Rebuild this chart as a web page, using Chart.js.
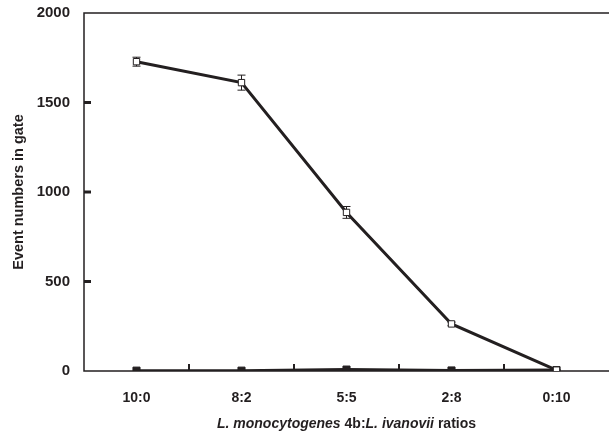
<!DOCTYPE html>
<html>
<head>
<meta charset="utf-8">
<script src="https://cdn.jsdelivr.net/npm/chart.js@4/dist/chart.umd.min.js"></script>
<style>
  html, body { margin: 0; padding: 0; background: #fff; }
  #wrap { width: 609px; height: 437px; }
</style>
</head>
<body>
<div id="wrap"><canvas id="chart"></canvas></div>
<script>
/* ── data ── */
const ratios = ['10:0', '8:2', '5:5', '2:8', '0:10'];
const ivanoviiGate = [1728, 1611, 886, 263, 5];
const ivanoviiErr = [25, 42, 33, 10, 3];
const monoGate = [2, 2, 8, 3, 5];
const yTicks = [0, 500, 1000, 1500, 2000];

const INK = '#231f20';
const FONT = '"Liberation Sans", Arial, sans-serif';

const pts = arr => arr.map((v, i) => ({ x: i, y: v }));

/* ── frame, inner ticks, error bars, titles ── */
const framePlugin = {
  id: 'frame',
  beforeDatasetsDraw(chart) {
    const { ctx, chartArea: a, scales: { x, y } } = chart;
    ctx.save();
    ctx.strokeStyle = INK;
    ctx.lineWidth = 1.5;
    ctx.beginPath();
    ctx.moveTo(a.right, a.top); ctx.lineTo(a.left, a.top);
    ctx.lineTo(a.left, a.bottom); ctx.lineTo(a.right, a.bottom);
    ctx.stroke();

    // y ticks pointing inward
    ctx.lineWidth = 3;
    yTicks.slice(1, -1).forEach(t => {
      const py = y.getPixelForValue(t);
      ctx.beginPath();
      ctx.moveTo(a.left, py); ctx.lineTo(a.left + 7, py);
      ctx.stroke();
    });
    // x ticks between categories, pointing up
    ctx.lineWidth = 2;
    for (let i = 0; i < ratios.length - 1; i++) {
      const px = x.getPixelForValue(i + 0.5);
      ctx.beginPath();
      ctx.moveTo(px, a.bottom); ctx.lineTo(px, a.bottom - 7);
      ctx.stroke();
    }

    // error bars on the open-square series (behind the markers)
    ctx.lineWidth = 1;
    ivanoviiGate.forEach((v, i) => {
      const px = x.getPixelForValue(i);
      const top = y.getPixelForValue(v + ivanoviiErr[i]);
      const bot = y.getPixelForValue(v - ivanoviiErr[i]);
      ctx.beginPath();
      ctx.moveTo(px, top); ctx.lineTo(px, bot);
      ctx.moveTo(px - 4, top); ctx.lineTo(px + 4, top);
      ctx.moveTo(px - 4, bot); ctx.lineTo(px + 4, bot);
      ctx.stroke();
    });
    ctx.restore();
  },
  afterDraw(chart) {
    const { ctx, chartArea: a } = chart;
    ctx.save();
    ctx.fillStyle = INK;

    // y title
    ctx.font = 'bold 14.5px ' + FONT;
    ctx.translate(19, (a.top + a.bottom) / 2);
    ctx.rotate(-Math.PI / 2);
    ctx.textAlign = 'center';
    ctx.textBaseline = 'middle';
    ctx.fillText('Event numbers in gate', 0, 0);
    ctx.setTransform(1, 0, 0, 1, 0, 0);

    // x title with italic species names
    const parts = [
      ['italic bold', 'L. monocytogenes'],
      ['bold', ' 4b:'],
      ['italic bold', 'L. ivanovii'],
      ['bold', ' ratios']
    ];
    let total = 0;
    parts.forEach(p => { ctx.font = p[0] + ' 14px ' + FONT; total += ctx.measureText(p[1]).width; });
    let cx = (a.left + a.right) / 2 - total / 2;
    ctx.textAlign = 'left';
    ctx.textBaseline = 'middle';
    parts.forEach(p => {
      ctx.font = p[0] + ' 14px ' + FONT;
      ctx.fillText(p[1], cx, 424);
      cx += ctx.measureText(p[1]).width;
    });
    ctx.restore();
  }
};

new Chart(document.getElementById('chart'), {
  type: 'line',
  data: {
    datasets: [
      {
        label: 'L. ivanovii',
        data: pts(ivanoviiGate),
        borderColor: INK,
        borderWidth: 3,
        pointStyle: 'rect',
        pointRadius: 4.5,
        pointBackgroundColor: '#ffffff',
        pointBorderColor: INK,
        pointBorderWidth: 1,
        tension: 0
      },
      {
        label: 'L. monocytogenes 4b',
        data: pts(monoGate),
        borderColor: INK,
        borderWidth: 3,
        pointStyle: 'rect',
        pointRadius: 5,
        pointBackgroundColor: INK,
        pointBorderColor: INK,
        pointBorderWidth: 1,
        tension: 0
      }
    ]
  },
  options: {
    responsive: true,
    maintainAspectRatio: false,
    animation: false,
    layout: { autoPadding: false, padding: { top: 13, right: 0, left: 0, bottom: 0 } },
    plugins: { legend: { display: false }, tooltip: { enabled: false } },
    scales: {
      x: {
        type: 'linear',
        min: -0.5,
        max: ratios.length - 0.5,
        afterBuildTicks: s => { s.ticks = ratios.map((_, i) => ({ value: i })); },
        afterFit: s => { s.height = 66; s.paddingLeft = 0; s.paddingRight = 0; },
        grid: { display: false },
        border: { display: false },
        ticks: {
          padding: 11,
          color: INK,
          font: { family: FONT, size: 14, weight: 'bold' },
          callback: v => ratios[v]
        }
      },
      y: {
        min: 0,
        max: 2000,
        afterBuildTicks: s => { s.ticks = yTicks.map(v => ({ value: v })); },
        afterFit: s => { s.width = 84; s.paddingTop = 0; s.paddingBottom = 0; },
        grid: { display: false },
        border: { display: false },
        ticks: {
          padding: 6,
          color: INK,
          font: { family: FONT, size: 15, weight: 'bold' },
          callback: v => String(v)
        }
      }
    }
  },
  plugins: [framePlugin]
});
</script>
</body>
</html>
